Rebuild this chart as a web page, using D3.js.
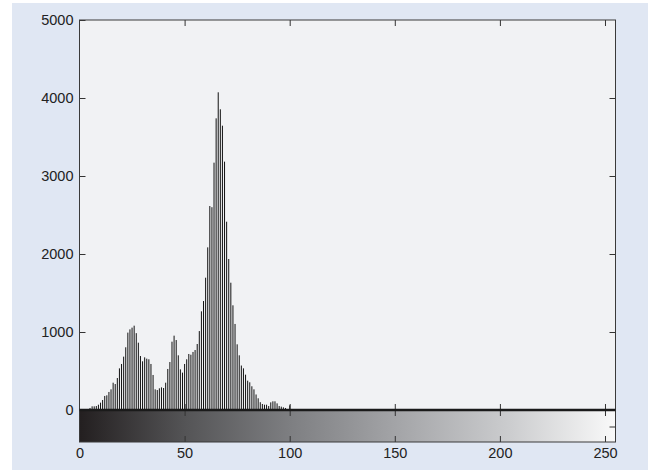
<!DOCTYPE html>
<html><head><meta charset="utf-8">
<script src="https://cdn.jsdelivr.net/npm/d3@7"></script>
<style>body{margin:0;background:#fff}svg{display:block}</style>
</head><body><svg id="c" width="648" height="470"></svg>
<script>
// Histogram counts for gray levels 0..100 (levels 101..255 are empty)
const counts = [
  60, 0, 0, 0, 0, 26, 47, 47, 51, 68,
  94, 128, 180, 188, 231, 265, 350, 333, 410, 534,
  590, 684, 804, 992, 1034, 1056, 1081, 985, 863, 692,
  624, 675, 658, 650, 590, 449, 265, 256, 278, 290,
  282, 350, 526, 615, 876, 953, 897, 701, 521, 479,
  590, 650, 718, 709, 744, 769, 846, 1012, 1265, 1397,
  1696, 2085, 2615, 2600, 3171, 3739, 4073, 3855, 3645, 3184,
  2414, 1936, 1632, 1342, 1103, 842, 701, 570, 534, 453,
  376, 355, 304, 265, 199, 150, 100, 77, 68, 68,
  51, 98, 111, 111, 85, 51, 43, 34, 26, 0,
  60
];
const levels = counts.map((d, i) => i);
const xTicks = [0, 50, 100, 150, 200, 250];
const yTicks = [0, 1000, 2000, 3000, 4000, 5000];
const xDomain = [0, 255];
const yDomain = [0, 5000];

const svg = d3.select('#c');
const L = 79.5, R = 615.5, T = 20, B = 410, CB = 442;
const font = '"Liberation Sans", Arial, Helvetica, sans-serif';

svg.append('rect').attr('x', 12).attr('y', 3).attr('width', 636).attr('height', 467).attr('fill', '#e0e7f3');

const x = d3.scaleLinear().domain(xDomain).range([L, R]);
const y = d3.scaleLinear().domain(yDomain).range([B, T]);

svg.append('rect').attr('x', L).attr('y', T).attr('width', R - L).attr('height', B - T).attr('fill', '#f1f2f4');

// colorbar gradient
const defs = svg.append('defs');
const grad = defs.append('linearGradient').attr('id', 'gray').attr('x1', '0%').attr('x2', '100%');
[[0, '#231f20'], [0.2, '#555557'], [0.4, '#7f8083'], [0.6, '#a5a6a9'], [0.8, '#cbccce'], [1, '#f9f9f9']]
  .forEach(([o, c]) => grad.append('stop').attr('offset', o).attr('stop-color', c));
svg.append('rect').attr('x', L).attr('y', B).attr('width', R - L).attr('height', CB - B).attr('fill', 'url(#gray)');

// stems
svg.append('g').selectAll('line').data(levels).join('line')
  .attr('x1', d => x(d)).attr('x2', d => x(d))
  .attr('y1', y(0)).attr('y2', d => y(counts[d]))
  .attr('stroke', '#111').attr('stroke-width', 1);

function styleAxis(g) {
  g.select('.domain').remove();
  g.selectAll('.tick line').attr('stroke', '#333').attr('stroke-width', 1);
  g.selectAll('text').attr('font-family', font).attr('font-size', '14.5px').attr('fill', '#222');
}

// left y axis with labels
svg.append('g').attr('transform', `translate(${L},0)`)
  .call(d3.axisLeft(y).tickValues(yTicks).tickSize(-6).tickPadding(6).tickFormat(d3.format('d')))
  .call(styleAxis);
// right ticks
svg.append('g').attr('transform', `translate(${R},0)`)
  .call(d3.axisRight(y).tickValues(yTicks.slice(1, -1)).tickSize(-6).tickFormat(''))
  .call(styleAxis);
// top ticks
svg.append('g').attr('transform', `translate(0,${T})`)
  .call(d3.axisTop(x).tickValues(xTicks.slice(1)).tickSize(-6).tickFormat(''))
  .call(styleAxis);
// histogram bottom ticks (upward)
svg.append('g').attr('transform', `translate(0,${B})`)
  .call(d3.axisBottom(x).tickValues(xTicks.slice(1)).tickSize(-6).tickFormat(''))
  .call(styleAxis);
// colorbar top ticks (downward)
svg.append('g').attr('transform', `translate(0,${B})`)
  .call(d3.axisTop(x).tickValues(xTicks.slice(1)).tickSize(-6).tickFormat(''))
  .call(styleAxis);
// colorbar bottom axis with labels
svg.append('g').attr('transform', `translate(0,${CB})`)
  .call(d3.axisBottom(x).tickValues(xTicks).tickSize(-6).tickPadding(6))
  .call(styleAxis)
  .call(g => g.selectAll('.tick').filter(d => d === 0).select('line').remove());
// colorbar right tick
svg.append('line').attr('x1', R - 6).attr('x2', R).attr('y1', (B + CB) / 2 + 1).attr('y2', (B + CB) / 2 + 1)
  .attr('stroke', '#333');

// frames
svg.append('rect').attr('x', L).attr('y', T).attr('width', R - L).attr('height', CB - T)
  .attr('fill', 'none').attr('stroke', '#3a3a3a').attr('stroke-width', 1);
svg.append('line').attr('x1', L).attr('x2', R).attr('y1', B).attr('y2', B)
  .attr('stroke', '#1a1a1a').attr('stroke-width', 2.5);
</script></body></html>
